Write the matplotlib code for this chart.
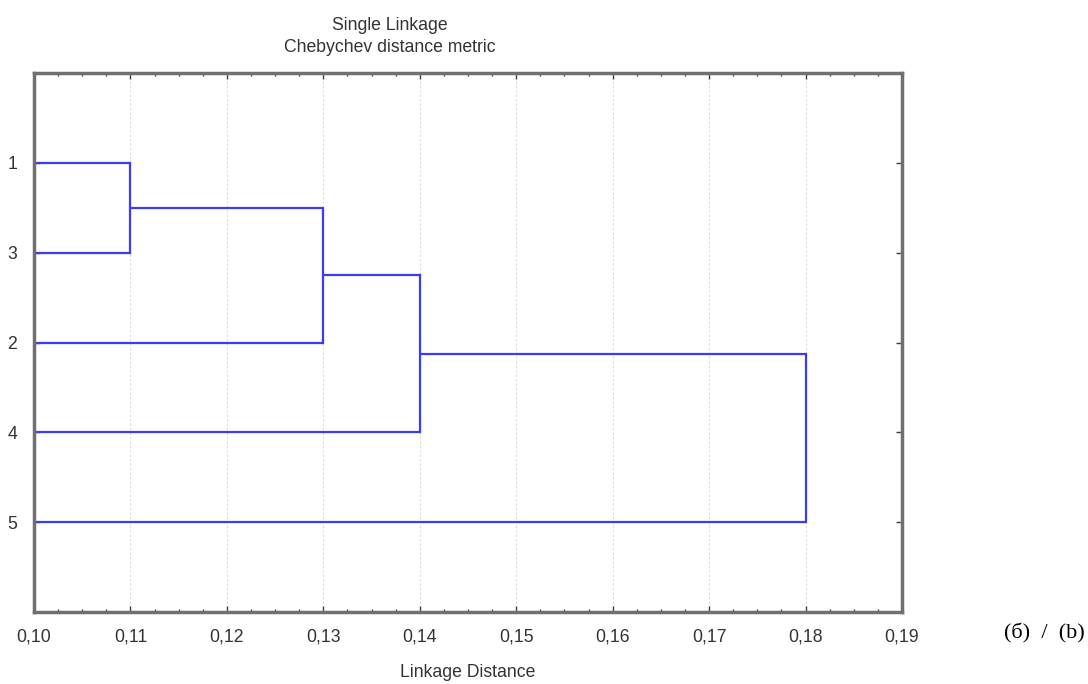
import matplotlib.pyplot as plt
from matplotlib.ticker import MultipleLocator, FuncFormatter

# ------ data ------
leaf_labels = ['1', '3', '2', '4', '5']
leaf_start = 0.10
# each merge joins two clusters: ids 0..4 are leaves, new ids follow (5, 6, ...)
merge_pairs = [(0, 1), (5, 2), (6, 3), (7, 4)]
merge_dist = [0.11, 0.13, 0.14, 0.18]
x_ticks = [0.10, 0.11, 0.12, 0.13, 0.14, 0.15, 0.16, 0.17, 0.18, 0.19]


def main():
    plt.rcParams['font.family'] = ['Liberation Sans', 'DejaVu Sans']
    fig = plt.figure(figsize=(10.88, 6.84), dpi=100)
    ax = fig.add_axes([34 / 1088, 1 - 612 / 684, (902 - 34) / 1088, (612 - 73) / 684])

    line_color = '#3b3bff'
    ypos = {i: i + 1 for i in range(len(leaf_labels))}
    xpos = {i: leaf_start for i in range(len(leaf_labels))}
    new_id = len(leaf_labels)
    for (a, b), d in zip(merge_pairs, merge_dist):
        for c in (a, b):
            ax.plot([xpos[c], d], [ypos[c], ypos[c]], color=line_color, lw=1.6,
                    solid_capstyle='butt')
        ax.plot([d, d], [ypos[a], ypos[b]], color=line_color, lw=1.6)
        ypos[new_id] = (ypos[a] + ypos[b]) / 2
        xpos[new_id] = d
        new_id += 1

    ax.set_xlim(x_ticks[0], x_ticks[-1])
    ax.set_ylim(len(leaf_labels) + 1, 0)
    ax.set_xticks(x_ticks)
    ax.xaxis.set_minor_locator(MultipleLocator(0.0025))
    ax.xaxis.set_major_formatter(FuncFormatter(lambda v, p: f'{v:.2f}'.replace('.', ',')))
    ax.set_yticks(range(1, len(leaf_labels) + 1))
    ax.set_yticklabels(leaf_labels)

    ax.grid(axis='x', color='#dcdcdc', linestyle=(0, (2, 2)), lw=0.8)
    ax.set_axisbelow(True)
    for s in ax.spines.values():
        s.set_color('#707070')
        s.set_linewidth(2.5)
    ax.tick_params(which='both', direction='in', top=True, right=True,
                   color='#404040', labelcolor='#333333', labelsize=12.7)
    ax.tick_params(which='major', length=4, width=1)
    ax.tick_params(which='minor', length=2.5, width=1)
    ax.tick_params(axis='x', pad=12)
    ax.tick_params(axis='y', pad=12)

    ax.set_xlabel('Linkage Distance', fontsize=12.7, color='#333333', labelpad=13)
    fig.text(390 / 1088, 1 - 25 / 684, 'Single Linkage', ha='center', va='center',
             fontsize=12.7, color='#333333')
    fig.text(390 / 1088, 1 - 48 / 684, 'Chebychev distance metric', ha='center',
             va='center', fontsize=12.7, color='#333333')
    fig.text(1085 / 1088, 1 - 633 / 684, '(б)  /  (b)', ha='right', va='center',
             fontsize=16, family=['Liberation Serif', 'DejaVu Serif'], color='black')

    fig.savefig('out.png', dpi=100)


if __name__ == "__main__":
    main()
